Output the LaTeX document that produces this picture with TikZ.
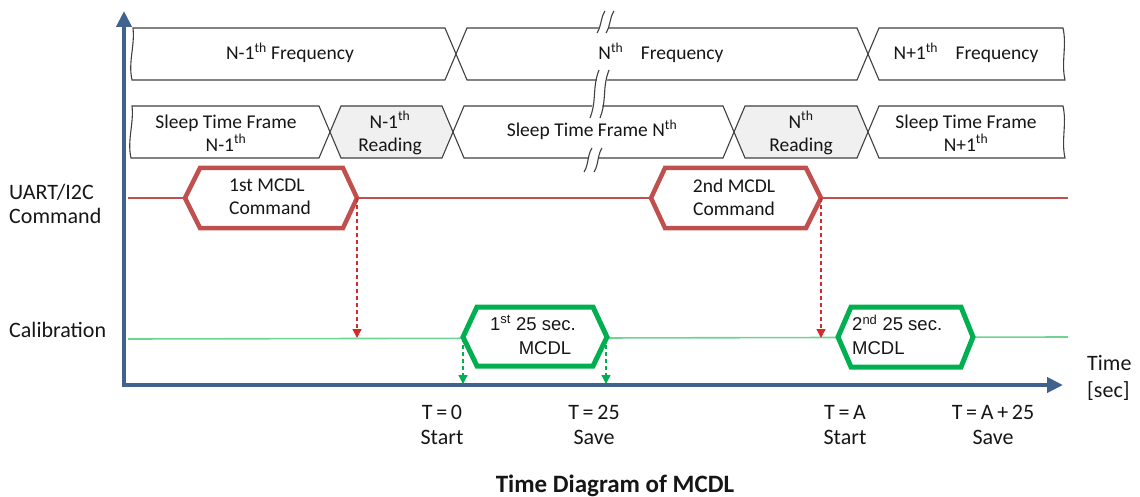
\documentclass[tikz,border=0pt]{standalone}
\usepackage{fontspec}
\setmainfont{Carlito}
\newfontfamily\arialf{Liberation Sans}
\usetikzlibrary{arrows.meta}
\definecolor{axisblue}{HTML}{41618F}
\definecolor{hexred}{HTML}{C0504D}
\definecolor{arrred}{HTML}{D42A2A}
\definecolor{hexgreen}{HTML}{00B050}
\definecolor{linegreen}{HTML}{6ED494}
\definecolor{boxgray}{HTML}{F0F0F0}
\definecolor{edgec}{HTML}{404040}
\definecolor{txt}{HTML}{161616}
\begin{document}
\begin{tikzpicture}[x=1pt,y=-1pt,
  rowbox/.style={draw=edgec,line width=1.1pt,fill=white,line join=miter},
  readbox/.style={rowbox,fill=boxgray},
  boxtext/.style={font=\fontsize{19.5}{23}\selectfont,text=txt,align=center,inner sep=0pt},
  lbltext/.style={font=\fontsize{22}{24.5}\selectfont,text=txt,inner sep=0pt},
  hexr/.style={draw=hexred,line width=4.5pt,fill=white,line join=miter},
  hexg/.style={draw=hexgreen,line width=5pt,fill=white,line join=miter},
  arialtext/.style={font=\arialf\fontsize{18.5}{24}\selectfont,text=txt,inner sep=0pt},
  axisline/.style={draw=axisblue,line width=4pt,line join=miter},
  reddash/.style={draw=arrred,line width=1.3pt,dash pattern=on 4pt off 3pt,-{Triangle[length=9pt,width=9pt]}},
  greendash/.style={draw=hexgreen,line width=1.3pt,dash pattern=on 4pt off 3pt,-{Triangle[length=9pt,width=9pt]}},
  breakline/.style={draw=edgec,line width=1.1pt}
]
\useasboundingbox (0,0) rectangle (1140,497);

% ---- row 1 : frequencies
\draw[rowbox] (133,28) -- (445,28) -- (456,54) -- (445,80) -- (132,80) .. controls (128,62) and (135,46) .. cycle;
\draw[rowbox] (456,54) -- (467,28) -- (857,28) -- (868,54) -- (857,80) -- (467,80) -- cycle;
\draw[rowbox] (868,54) -- (879,28) -- (1063,28) .. controls (1067,46) and (1061,62) .. (1065,80) -- (879,80) -- cycle;
% ---- row 2 : sleep / reading
\draw[rowbox] (132,106) -- (319,106) -- (330,132) -- (319,158) -- (131,158) .. controls (127,140) and (134,124) .. cycle;
\draw[readbox] (330,132) -- (341,106) -- (442,106) -- (453,132) -- (442,158) -- (341,158) -- cycle;
\draw[rowbox] (453,132) -- (464,106) -- (723,106) -- (734,132) -- (723,158) -- (464,158) -- cycle;
\draw[readbox] (734,132) -- (745,106) -- (857,106) -- (868,132) -- (857,158) -- (745,158) -- cycle;
\draw[rowbox] (868,132) -- (879,106) -- (1063,106) .. controls (1067,124) and (1061,140) .. (1065,158) -- (879,158) -- cycle;

% ---- break marks
\fill[white] (597,33) -- (605,11) -- (614,11) -- (606,33) -- cycle;
\draw[breakline] (597,33) .. controls (602,25) and (600,19) .. (605,11);
\draw[breakline] (606,33) .. controls (611,25) and (609,19) .. (614,11);
\fill[white] (590,118) -- (599,70) -- (609,70) -- (600,118) -- cycle;
\draw[breakline] (590,118) .. controls (597,100) and (592,88) .. (599,70);
\draw[breakline] (600,118) .. controls (607,100) and (602,88) .. (609,70);
\fill[white] (584,172) -- (592,148) -- (602,148) -- (594,172) -- cycle;
\draw[breakline] (584,172) .. controls (589,164) and (587,156) .. (592,148);
\draw[breakline] (594,172) .. controls (599,164) and (597,156) .. (602,148);

% ---- row texts
\node[boxtext,anchor=base] (f1) at (290,60) {N-1\textsuperscript{th} Frequency};
\node[boxtext,anchor=base] (f2) at (661,60) {N\textsuperscript{th}\hspace{0.9em}Frequency};
\node[boxtext,anchor=base] (f3) at (966,60) {N+1\textsuperscript{th}\hspace{0.9em}Frequency};
\node[boxtext] (s1) at (226,133) {Sleep Time Frame\\N-1\textsuperscript{th}};
\node[boxtext] (r1) at (390,133) {N-1\textsuperscript{th}\\Reading};
\node[boxtext,anchor=base] (s2) at (592,137) {Sleep Time Frame N\textsuperscript{th}};
\node[boxtext] (r2) at (801,133) {N\textsuperscript{th}\\Reading};
\node[boxtext] (s3) at (966,133) {Sleep Time Frame\\N+1\textsuperscript{th}};

% ---- signal lines
\coordinate (redL) at (128,198);
\coordinate (redR) at (1068,198);
\coordinate (grnL) at (128,339);
\coordinate (grnR) at (1068,337);
\draw[hexred,line width=1.2pt] (redL) -- (redR);
\draw[linegreen,line width=1.6pt] (grnL) -- (grnR);

% ---- red command hexagons
\draw[hexr] (185,198) -- (200,168) -- (343,168) -- (357,198) -- (343,228) -- (200,228) -- cycle;
\draw[hexr] (651,198) -- (665,168) -- (806,168) -- (821,198) -- (806,228) -- (665,228) -- cycle;
\coordinate (c1r) at (357,198);
\coordinate (c2r) at (821,198);
\node[boxtext,align=left] (c1) at (270,197) {1st MCDL\\Command};
\node[boxtext] (c2) at (734,197) {2nd MCDL\\Command};

% ---- green calibration hexagons
\draw[hexg] (463,337) -- (477,307) -- (593,307) -- (607,337) -- (593,366) -- (477,366) -- cycle;
\draw[hexg] (838,337) -- (851,307) -- (961,307) -- (973,337) -- (961,367) -- (851,367) -- cycle;
\coordinate (m1l) at (463,338);
\coordinate (m1r) at (606,338);
\node[arialtext,align=center] (m1) at (533,335) {1\textsuperscript{st} 25 sec.\\\hspace*{24pt}MCDL};
\node[arialtext,align=left,anchor=west] (m2) at (852,335) {2\textsuperscript{nd} 25 sec.\\MCDL};

% ---- dashed arrows
\coordinate (g1) at (357,338);
\coordinate (g2) at (821,338);
\coordinate (a1) at (463,384);
\coordinate (a2) at (606,384);
\draw[reddash] (c1r) -- (g1);
\draw[reddash] (c2r) -- (g2);
\draw[greendash] (m1l) -- (a1);
\draw[greendash] (m1r) -- (a2);

% ---- axes
\coordinate (ytip) at (124,11);
\coordinate (origin) at (124,385);
\coordinate (xtip) at (1063,385);
\draw[axisline,{Triangle[length=16pt,width=15pt]}-{Triangle[length=16pt,width=15pt]}] (ytip) -- (origin) -- (xtip);

% ---- labels
\node[lbltext,align=left,anchor=west] (uart) at (9,204) {UART/I2C\\Command};
\node[lbltext,anchor=base west] (cal) at (9,337) {Calibration};
\node[lbltext,align=left,anchor=west] (time) at (1087,378) {Time\\[2pt][sec]};
\node[lbltext,align=center] (t0) at (442,425) {T\,=\,0\\Start};
\node[lbltext,align=center] (t25) at (594,425) {T\,=\,25\\Save};
\node[lbltext,align=center] (ta) at (845,425) {T\,=\,A\\Start};
\node[lbltext,align=center] (ta25) at (993,425) {T\,=\,A\,+\,25\\Save};
\node[font=\bfseries\fontsize{25}{28}\selectfont,text=txt,inner sep=0pt,anchor=base] (title) at (615,492) {Time Diagram of MCDL};
\end{tikzpicture}
\end{document}
